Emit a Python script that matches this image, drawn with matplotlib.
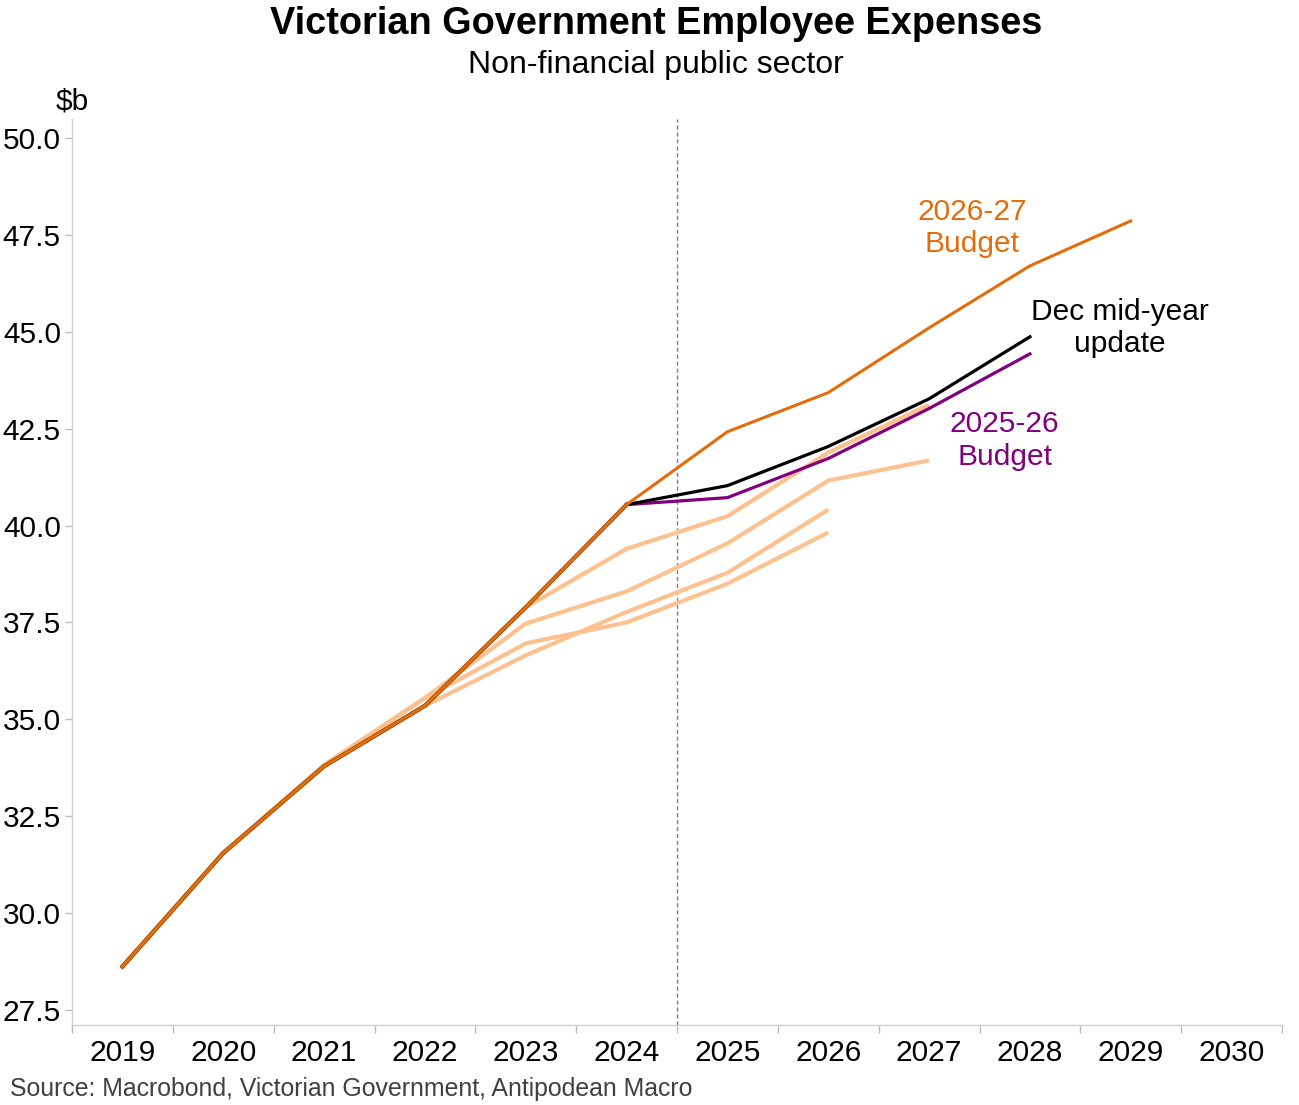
import matplotlib
matplotlib.use("Agg")
import matplotlib.pyplot as plt
import numpy as np

plt.rcParams['font.family'] = ['Liberation Sans', 'DejaVu Sans']

# ---- Data ----
hist_years = [2019, 2020, 2021, 2022, 2023, 2024]
hist_vals = [28.62, 31.55, 33.79, 35.35, 37.89, 40.54]

fc_years = [2024, 2025, 2026, 2027, 2028, 2029]
budget_2627 = [40.54, 42.42, 43.43, 45.10, 46.70, 47.86]

myu_years = [2024, 2025, 2026, 2027, 2028]
dec_myu = [40.54, 41.03, 42.04, 43.27, 44.87]
budget_2526 = [40.54, 40.72, 41.73, 43.02, 44.43]

old1_years = [2019, 2020, 2021, 2022, 2023, 2024, 2025, 2026, 2027]
old1_vals = [28.62, 31.55, 33.79, 35.35, 37.89, 39.40, 40.24, 41.88, 43.12]
old2_years = [2019, 2020, 2021, 2022, 2023, 2024, 2025, 2026, 2027]
old2_vals = [28.62, 31.55, 33.82, 35.55, 37.47, 38.30, 39.54, 41.16, 41.68]
old3_years = [2019, 2020, 2021, 2022, 2023, 2024, 2025, 2026]
old3_vals = [28.62, 31.55, 33.82, 35.55, 36.96, 37.50, 38.50, 39.82]
old4_years = [2019, 2020, 2021, 2022, 2023, 2024, 2025, 2026]
old4_vals = [28.62, 31.55, 33.79, 35.35, 36.65, 37.77, 38.78, 40.41]

xtick_years = list(range(2019, 2031))
yticks = [27.5, 30.0, 32.5, 35.0, 37.5, 40.0, 42.5, 45.0, 47.5, 50.0]

# ---- Colors ----
ORANGE = '#E46C0A'
LIGHT = '#FDC18F'
PURPLE = '#800080'
BLACK = '#000000'

fig = plt.figure(figsize=(12.99, 11.05), dpi=100)
ax = fig.add_axes([72/1299, 80/1105, (1282-72)/1299, (1025-119)/1105])

for yrs, vals in [(old1_years, old1_vals), (old2_years, old2_vals),
                  (old3_years, old3_vals), (old4_years, old4_vals)]:
    ax.plot(yrs, vals, color=LIGHT, lw=3.0, solid_capstyle='butt', zorder=2)

ax.plot(myu_years, budget_2526, color=PURPLE, lw=2.3, zorder=3)
ax.plot(myu_years, dec_myu, color=BLACK, lw=2.3, zorder=3)
ax.plot(hist_years, hist_vals, color='#7a3a05', lw=3.0, zorder=4)
ax.plot(hist_years + fc_years[1:], hist_vals + budget_2627[1:], color=ORANGE, lw=2.2, zorder=5)

ax.axvline(2024.5, color='#808080', lw=1.0, ls=(0, (3, 2)), zorder=1)

ax.set_xlim(2018.5, 2030.5)
ax.set_ylim(27.5 - 15/38.8, 50 + 19/38.8)

ax.set_yticks(yticks)
ax.set_yticklabels([f'{v:.1f}' for v in yticks])
ax.set_xticks(xtick_years)
ax.set_xticklabels([str(y) for y in xtick_years])
ax.set_xticks(np.arange(2018.5, 2031.0, 1.0), minor=True)

ax.tick_params(axis='y', which='major', labelsize=21.5, length=5, width=1, color='#BBBBBB', pad=3)
ax.tick_params(axis='x', which='major', labelsize=21.5, length=0, pad=10)
ax.tick_params(axis='x', which='minor', length=6, width=1, color='#BBBBBB', direction='out')

for s in ['top', 'right']:
    ax.spines[s].set_visible(False)
for s in ['left', 'bottom']:
    ax.spines[s].set_color('#D0D0D0')
    ax.spines[s].set_linewidth(1.0)

# Annotations
ax.text(2027.43, 47.68, '2026-27\nBudget', color=ORANGE, fontsize=21.5, ha='center', va='center', linespacing=1.2)
ax.text(2028.89, 45.09, 'Dec mid-year\nupdate', color=BLACK, fontsize=21.5, ha='center', va='center', linespacing=1.2)
ax.text(2027.75, 42.19, '2025-26\nBudget', color=PURPLE, fontsize=21.5, ha='center', va='center', linespacing=1.2)

fig.text(656/1299, 1 - 24/1105, 'Victorian Government Employee Expenses', fontsize=27.3, fontweight='bold', ha='center', va='center')
fig.text(656/1299, 1 - 65/1105, 'Non-financial public sector', fontsize=23, ha='center', va='center')
fig.text(72/1299, 1 - 101/1105, '$b', fontsize=21.5, ha='center', va='center')
fig.text(10/1299, 1 - 1089/1105, 'Source: Macrobond, Victorian Government, Antipodean Macro', fontsize=17.9, color='#404040', ha='left', va='center')

fig.savefig('out.png', dpi=100, facecolor='white')
